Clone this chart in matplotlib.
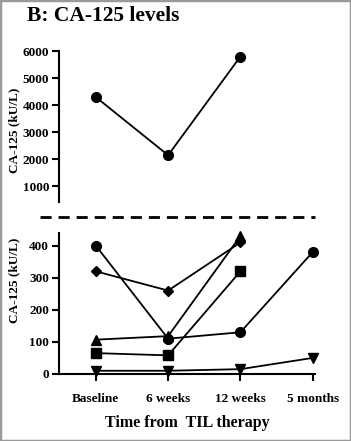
import numpy as np
import matplotlib
matplotlib.use("Agg")
import matplotlib.pyplot as plt
from matplotlib.lines import Line2D
from matplotlib.patches import Rectangle

plt.rcParams['font.family'] = ['Liberation Serif', 'DejaVu Serif']
plt.rcParams['font.weight'] = 'bold'

TIMEPOINTS = ['Baseline', '6 weeks', '12 weeks', '5 months']

# top panel (high responder)
HIGH = [4300, 2150, 5800, np.nan]

# bottom panel, one list per patient
PAT_CIRCLE = [400, 110, 130, 380]
PAT_DIAMOND = [320, 260, 410, np.nan]
PAT_TRIANGLE = [107, 118, 430, np.nan]
PAT_SQUARE = [65, 58, 320, np.nan]
PAT_DOWN = [10, 10, 15, 50]

x = np.arange(len(TIMEPOINTS))

fig = plt.figure(figsize=(3.51, 4.41), dpi=100)
fig.add_artist(Rectangle((0, 0), 1, 1, transform=fig.transFigure,
                         fill=False, edgecolor='#9a9a9a', linewidth=2.5))

kw = dict(color='black', lw=1.3, ms=7, clip_on=False)

### TOP ###
ax1 = fig.add_axes([0.168, 0.542, 0.729, 0.342])
ax1.plot(x, HIGH, marker='o', **kw)
ax1.set_xlim(-0.51, 3.03)
ax1.set_ylim(420, 6000)
ax1.set_yticks([1000, 2000, 3000, 4000, 5000, 6000])
ax1.spines['top'].set_visible(False)
ax1.spines['right'].set_visible(False)
ax1.spines['bottom'].set_visible(False)
ax1.spines['left'].set_linewidth(1.5)
ax1.set_xticks([])
ax1.tick_params(axis='y', labelsize=9.5, width=1.5, length=5, pad=2)
ax1.set_ylabel('CA-125 (kU/L)', fontsize=9.5, fontweight='bold')
ax1.yaxis.set_label_coords(-0.152, 0.477)

### BOTTOM ###
ax2 = fig.add_axes([0.168, 0.152, 0.729, 0.320])
ax2.plot(x, PAT_CIRCLE, marker='o', **kw)
ax2.plot(x, PAT_DIAMOND, marker='D', **dict(kw, ms=5.5))
ax2.plot(x, PAT_TRIANGLE, marker='^', **kw)
ax2.plot(x, PAT_SQUARE, marker='s', **dict(kw, ms=6.5))
ax2.plot(x, PAT_DOWN, marker='v', **kw)
ax2.set_xlim(-0.51, 3.03)
ax2.set_ylim(0, 440)
ax2.set_yticks([0, 100, 200, 300, 400])
ax2.set_xticks(x)
ax2.set_xticklabels(TIMEPOINTS)
ax2.spines['top'].set_visible(False)
ax2.spines['right'].set_visible(False)
ax2.spines['left'].set_linewidth(1.5)
ax2.spines['bottom'].set_linewidth(1.5)
ax2.tick_params(axis='both', labelsize=9.5, width=1.5, length=5, pad=2)
ax2.tick_params(axis='x', pad=9)
ax2.set_ylabel('CA-125 (kU/L)', fontsize=9.5, fontweight='bold')
ax2.yaxis.set_label_coords(-0.152, 0.665)
ax2.set_xlabel('Time from  TIL therapy', fontsize=11.5, fontweight='bold', labelpad=7)

# break line between panels
fig.add_artist(Line2D([40 / 351, 315 / 351], [1 - 217 / 441, 1 - 217 / 441],
                      transform=fig.transFigure, color='black', lw=2,
                      linestyle=(0, (4, 2.5))))

fig.text(27 / 351, 1 - 16 / 441, 'B: CA-125 levels', fontsize=15.5,
         fontweight='bold', va='center', ha='left')

fig.savefig('out.png', dpi=100)
